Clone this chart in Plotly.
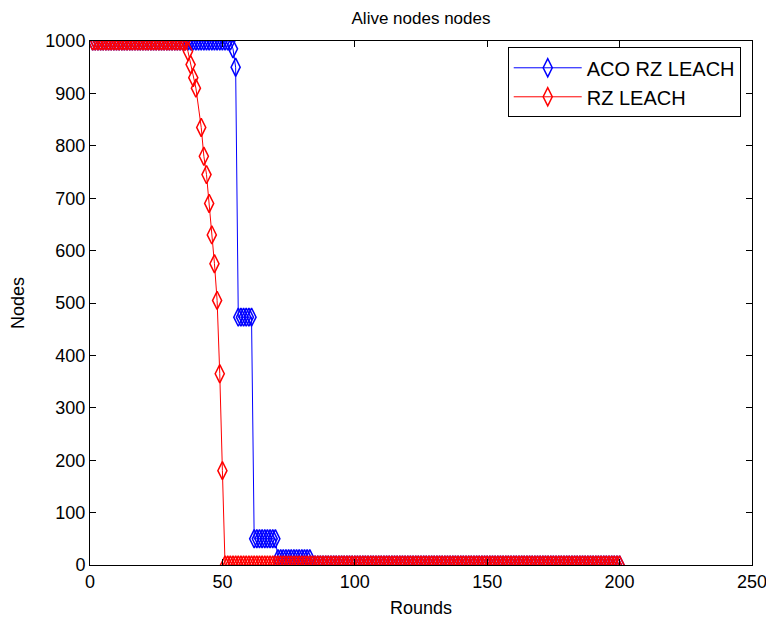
import plotly.graph_objects as go

# ---- data ----
rounds = list(range(1, 201))                          # rounds 1..200
red_rounds = list(range(1, 41)) + list(range(42, 201))  # RZ LEACH sample rounds

aco_rz_leach = ([1000] * 53            # rounds 1-53
                + [985, 950]           # rounds 54-55
                + [473] * 6            # rounds 56-61
                + [50] * 9             # rounds 62-70
                + [12] * 13            # rounds 71-83
                + [0] * 117)           # rounds 84-200

rz_leach = ([1000] * 36                # rounds 1-36
            + [980, 955, 930, 910]     # rounds 37-40
            + [835, 780, 745, 690, 630, 575, 505, 365, 180]  # rounds 42-50
            + [0] * 150)               # rounds 51-200

series_names = ["ACO RZ LEACH", "RZ LEACH"]
x_ticks = [0, 50, 100, 150, 200, 250]
y_ticks = [0, 100, 200, 300, 400, 500, 600, 700, 800, 900, 1000]

FONT = "Liberation Sans, Arial, sans-serif"

fig = go.Figure()
fig.add_trace(go.Scatter(
    x=rounds, y=aco_rz_leach, name=series_names[0], mode="lines+markers",
    line=dict(color="rgb(0,0,255)", width=1),
    marker=dict(symbol="diamond-tall-open", size=13, color="rgb(0,0,255)",
                line=dict(width=1.5, color="rgb(0,0,255)")),
))
fig.add_trace(go.Scatter(
    x=red_rounds, y=rz_leach, name=series_names[1], mode="lines+markers",
    line=dict(color="rgb(255,0,0)", width=1),
    marker=dict(symbol="diamond-tall-open", size=13, color="rgb(255,0,0)",
                line=dict(width=1.5, color="rgb(255,0,0)")),
))

axis_common = dict(
    showgrid=False, zeroline=False, showline=True, linecolor="black", linewidth=1,
    mirror="ticks", ticks="inside", ticklen=6, tickcolor="black", tickwidth=1,
    tickfont=dict(family=FONT, size=18, color="black"),
    ticklabeloverflow="allow", automargin=False,
)

fig.update_layout(
    width=766, height=619,
    margin=dict(l=90, r=14, t=41, b=54, autoexpand=False),
    paper_bgcolor="white", plot_bgcolor="white",
    font=dict(family=FONT, color="black"),
    title=dict(text="Alive nodes nodes", x=0.5, xref="paper", xanchor="center",
               y=1 - 18 / 619, yref="container", yanchor="middle",
               font=dict(family=FONT, size=17, color="black")),
    xaxis=dict(range=[0, 250], tickvals=x_ticks, **axis_common),
    yaxis=dict(range=[0, 1000], tickvals=y_ticks, **axis_common),
    legend=dict(x=0.631, y=0.988, xanchor="left", yanchor="top",
                bgcolor="white", bordercolor="black", borderwidth=1,
                itemwidth=68,
                font=dict(family=FONT, size=20, color="black")),
    showlegend=True,
    annotations=[
        dict(text="Rounds", x=0.5, y=0, xref="paper", yref="paper",
             xanchor="center", yanchor="middle", yshift=-43, showarrow=False,
             font=dict(family=FONT, size=18, color="black")),
        dict(text="Nodes", x=0, y=0.5, xref="paper", yref="paper",
             xanchor="center", yanchor="middle", xshift=-72, textangle=-90,
             showarrow=False, font=dict(family=FONT, size=18, color="black")),
    ],
)

fig.write_html("out.html", config={"displayModeBar": False})
